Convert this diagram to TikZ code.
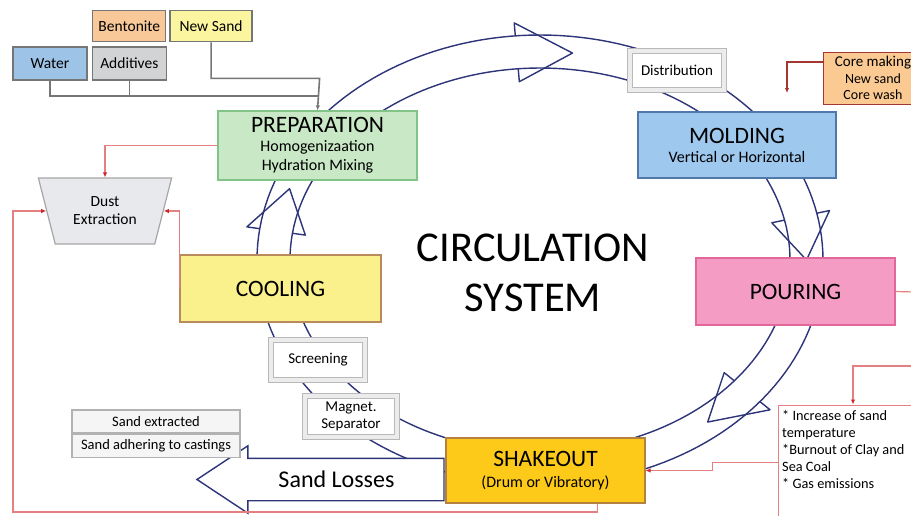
\documentclass[tikz,border=0pt]{standalone}
\usepackage{fontspec}
\setmainfont{Carlito}
\usetikzlibrary{positioning,shapes.geometric,shapes.arrows,arrows.meta}
\definecolor{ringblue}{RGB}{46,52,120}
\definecolor{prepgreen}{RGB}{200,232,198}
\definecolor{prepedge}{RGB}{130,196,136}
\definecolor{moldblue}{RGB}{158,200,238}
\definecolor{moldedge}{RGB}{80,120,170}
\definecolor{pourpink}{RGB}{245,156,196}
\definecolor{pouredge}{RGB}{226,104,156}
\definecolor{coolyellow}{RGB}{250,240,140}
\definecolor{cooledge}{RGB}{185,138,92}
\definecolor{shakegold}{RGB}{253,202,26}
\definecolor{shakeedge}{RGB}{180,130,60}
\definecolor{dustgray}{RGB}{232,233,237}
\definecolor{bentorange}{RGB}{248,200,152}
\definecolor{sandyellow}{RGB}{251,245,160}
\definecolor{waterblue}{RGB}{157,195,230}
\definecolor{addgray}{RGB}{210,211,213}
\definecolor{coreorange}{RGB}{251,202,146}
\definecolor{corered}{RGB}{165,55,50}
\definecolor{lossred}{RGB}{228,128,128}
\definecolor{tipred}{RGB}{205,40,50}
\definecolor{feedgray}{RGB}{118,118,118}

\newcommand{\stagename}[1]{{\fontsize{23.5}{27}\selectfont #1}}

\begin{document}
\begin{tikzpicture}[x=1pt,y=-1pt,
  stage/.style={draw,line width=1.2pt,minimum width=199pt,minimum height=67pt,
    inner sep=0pt,align=center,font=\fontsize{16}{19}\selectfont},
  feedbox/.style={draw=feedgray,line width=1.3pt,minimum width=74pt,minimum height=31pt,
    inner sep=0pt,font=\fontsize{15.5}{17}\selectfont},
  unitbox/.style={draw=gray!55,line width=1pt,double=gray!15,double distance=4pt,
    fill=white,inner sep=0pt,align=center,font=\fontsize{15}{17}\selectfont},
  lossbox/.style={draw=gray!60,fill=gray!8,line width=1.5pt,minimum width=168pt,
    minimum height=23pt,inner sep=0pt,font=\fontsize{14.5}{16}\selectfont},
  ring/.style={draw=ringblue,line width=1.4pt},
  redline/.style={draw=lossred,line width=1.2pt},
  redtip/.style={-{Latex[length=5pt,width=4.5pt,color=tipred]}},
  feed/.style={draw=feedgray,line width=1.6pt}]

  \useasboundingbox (0,0) rectangle (911,515);
  \clip (0,0) rectangle (911,515);
  \fill[white] (0,0) rectangle (911,515);

  % circulation ring
  \draw[ring] plot[domain=0:360,samples=181] ({540+283*cos(\x)},{260+225*sin(\x)}) -- cycle;
  \draw[ring] plot[domain=0:360,samples=181] ({540+250*cos(\x)},{260+192*sin(\x)}) -- cycle;
  \foreach \headbase/\headtip in {265/277,348/360,39/51,188/200}
    \draw[ring,line join=round] ({540+283*cos(\headbase)},{260+225*sin(\headbase)})
      -- ({540+296*cos(\headbase)},{260+238*sin(\headbase)})
      -- ({540+266.5*cos(\headtip)},{260+208.5*sin(\headtip)})
      -- ({540+237*cos(\headbase)},{260+179*sin(\headbase)})
      -- ({540+250*cos(\headbase)},{260+192*sin(\headbase)});

  \node[single arrow,shape border rotate=180,draw=ringblue,line width=1.4pt,fill=white,
    minimum height=247pt,single arrow head extend=12.5pt,single arrow tip angle=67,
    inner xsep=0pt,inner ysep=13pt,text height=15pt,text depth=0pt,
    font=\fontsize{24}{28}\selectfont] (losses) at (336.5,479.5) {Sand Losses};

  \node[font=\fontsize{42.5}{50}\selectfont,align=center] (title) at (533,273) {CIRCULATION\\SYSTEM};

  % stages
  \node[stage,fill=prepgreen,draw=prepedge,minimum height=69pt] (prep) at (317.5,145.5)
    {\stagename{PREPARATION}\\Homogenizaation\\Hydration Mixing};
  \node[stage,fill=moldblue,draw=moldedge,minimum width=198pt,minimum height=66pt] (mold) at (737,145)
    {\stagename{MOLDING}\\Vertical or Horizontal};
  \node[stage,fill=pourpink,draw=pouredge] (pour) at (795.5,291.5) {\stagename{POURING}};
  \node[stage,fill=shakegold,draw=shakeedge,minimum height=65pt] (shake) at (545.5,470.5)
    {\stagename{SHAKEOUT}\\[2pt](Drum or Vibratory)};
  \node[stage,fill=coolyellow,draw=cooledge,minimum width=201pt] (cool) at (280.5,288.5)
    {\stagename{COOLING}};

  \node[unitbox,minimum width=94pt,minimum height=39pt] (distrib) at (677,70.5) {Distribution};
  \node[unitbox,minimum width=94pt,minimum height=40pt] (screen) at (318,360) {Screening};
  \node[unitbox,minimum width=92pt,minimum height=41pt] (magnet) at (351,416.5) {Magnet.\\Separator};

  \node[trapezium,trapezium angle=69,trapezium stretches=true,shape border rotate=180,
    draw=gray!70,line width=1.2pt,fill=dustgray,minimum width=134pt,minimum height=66pt,
    inner sep=0pt,align=center,font=\fontsize{15.5}{18}\selectfont] (dust) at (105,211) {Dust\\Extraction};

  % sand inputs
  \node[feedbox,fill=waterblue,minimum height=33pt] (water) at (50,63.5) {Water};
  \node[feedbox,fill=addgray,minimum height=33pt,right=4pt of water] (additives) {Additives};
  \node[feedbox,fill=bentorange,minimum width=73pt,above=4pt of additives] (bentonite) {Bentonite};
  \node[feedbox,fill=sandyellow,minimum width=82pt,right=3pt of bentonite] (newsand) {New Sand};

  \coordinate (feedjoin) at (318,96);
  \draw[feed] (water.south) |- (feedjoin);
  \draw[feed] (additives.south) -- (additives.south |- feedjoin);
  \draw[feed,-{Latex[length=5pt,width=4.5pt]}] (newsand.south) |- ++(108.5,36) -- (prep.north);

  % core making
  \node[draw=corered,line width=1pt,fill=coreorange,minimum width=100pt,minimum height=52pt,
    inner sep=0pt,align=center,font=\fontsize{14}{16.5}\selectfont] (core) at (873,78)
    {{\fontsize{15}{16.5}\selectfont Core making}\\New sand\\Core wash};
  \coordinate (coretip) at (787,93);
  \draw[draw=corered,line width=1.2pt,-{Latex[length=5pt,width=4.5pt]}] ([yshift=16pt]core.west) -| (coretip);

  % pouring effects
  \node[draw=lossred,line width=1pt,fill=white,minimum width=150pt,minimum height=115pt] (notes) at (853,462.5) {};
  \node[anchor=north west,align=left,inner sep=0pt,font=\fontsize{14.3}{17}\selectfont] (notestext) at (782,410)
    {* Increase of sand\\temperature\\*Burnout of Clay and\\Sea Coal\\* Gas emissions};
  \coordinate (pourout) at (915,292);
  \coordinate (notesin) at (915,366);
  \draw[redline] (pour.east) -- (pourout);
  \draw[redline,redtip] (notesin) -| (notes.north);
  \draw[redline,redtip] (notes.west) -- ++(-65,0) |- (shake.east);

  % sand losses
  \node[lossbox] (lossa) at (156,421.5) {Sand extracted};
  \node[lossbox,below=0pt of lossa] (lossb) {Sand adhering to castings};

  % dust extraction loops
  \coordinate (loopcorner) at (13,512);
  \draw[redline,redtip] (prep.west) -| (dust.north);
  \draw[redline,redtip] (cool.west) |- (dust.east);
  \draw[redline,redtip] ([xshift=52pt]shake.south) |- (loopcorner) |- (dust.west);

\end{tikzpicture}
\end{document}
